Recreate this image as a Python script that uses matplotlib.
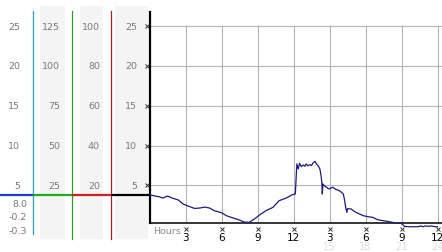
import matplotlib
matplotlib.use('Agg')
import matplotlib.pyplot as plt
import matplotlib.transforms as mtransforms
from matplotlib.patches import Rectangle

# Dew point trace (hours since midnight, value)
hours = [0, 0.8, 1.1, 1.5, 1.9, 2.4, 2.8, 3.3, 3.75, 4.2, 4.6, 5.0, 5.4, 6.0, 6.4,
         6.9, 7.5, 7.9, 8.3, 8.75, 9.2, 9.7, 10.3, 10.8, 11.4, 11.9, 12.15, 12.28,
         12.4, 12.5, 12.65, 12.8, 12.95, 13.05, 13.2, 13.35, 13.5, 13.6, 13.8, 13.9,
         14.05, 14.2, 14.3, 14.36, 14.4, 14.45, 14.6, 14.75, 14.9, 15.0, 15.15, 15.3,
         15.5, 15.7, 15.85, 16.0, 16.15, 16.25, 16.35, 16.45, 16.5, 16.8, 17.0, 17.2,
         17.5, 17.8, 18.2, 18.6, 19.0, 19.45, 20.0, 20.55, 20.95, 21.25, 21.6, 22.0,
         22.4, 22.6, 22.8, 23.0, 23.2, 23.5, 23.8, 24.0]
dew = [3.79, 3.57, 3.40, 3.66, 3.40, 3.16, 2.65, 2.36, 2.10, 2.15, 2.27, 2.15, 1.81, 1.56, 1.19,
       0.93, 0.64, 0.39, 0.35, 0.77, 1.31, 1.81, 2.24, 3.07, 3.41, 3.82, 3.91, 7.69,
       7.06, 7.77, 7.35, 7.55, 7.40, 7.69, 7.45, 7.60, 7.48, 7.77, 8.02, 7.70,
       7.48, 7.06, 6.20, 5.38, 3.91, 5.17, 4.90, 4.75, 4.60, 4.54, 4.70, 4.75,
       4.50, 4.41, 4.30, 4.12, 3.91, 3.20, 2.20, 1.61, 2.07, 2.03, 1.80, 1.61,
       1.40, 1.19, 1.06, 0.98, 0.69, 0.56, 0.43, 0.26, 0.25, -0.15, -0.20, -0.20,
       -0.20, -0.10, -0.20, -0.10, -0.15, -0.10, -0.20, -0.20]

levels = [25, 20, 15, 10, 5]
scale_a = ['25', '20', '15', '10', '5']
scale_b = ['125', '100', '75', '50', '25']
scale_c = ['100', '80', '60', '40', '20']
scale_d = ['25', '20', '15', '10', '5']
extra_labels = ['8.0', '-0.2', '-0.3']

hour_ticks = [3, 6, 9, 12, 15, 18, 21, 24]
hour_labels = ['3', '6', '9', '12', '3', '6', '9', '12']
faint_ticks = [15, 18, 21, 24]
faint_labels = ['15', '18', '21', '24']

W, H = 442, 253
fig = plt.figure(figsize=(W / 100, H / 100), dpi=100)

# background axes in pixel coordinates for the side panel
bg = fig.add_axes([0, 0, 1, 1], zorder=0)
bg.set_xlim(0, W)
bg.set_ylim(H, 0)
bg.axis('off')

# main chart
ax = fig.add_axes([149.5 / W, 1 - 224.3 / H, (W - 149.5) / W, (224.3 - 13) / H], zorder=1)
ax.set_xlim(0, (W - 149.5) / 12)
ax.set_ylim(0.23, 26.78)

for lv in levels:
    ax.axhline(lv, color='#b4b4b4', lw=0.8, zorder=1)
ax.vlines(hour_ticks, 0.23, 25.2, color='#b4b4b4', lw=0.8, zorder=1)

ax.plot(hours, dew, color='#1a1a8a', lw=0.9, zorder=3, clip_on=False)

for side in ['top', 'right']:
    ax.spines[side].set_visible(False)
ax.spines['left'].set_linewidth(1.6)
ax.spines['bottom'].set_linewidth(1.1)
ax.set_yticks([])
ax.set_xticks(hour_ticks)
ax.set_xticklabels(hour_labels)
ax.tick_params(axis='x', length=0, pad=6.5, labelsize=7.5, labelcolor='black')

# small tick marks
xt = ax.get_xaxis_transform()
ax.plot(hour_ticks, [-0.027] * len(hour_ticks), transform=xt, ls='none', marker='x',
        ms=2.2, mew=0.7, color='#333333', clip_on=False)
ax.plot([-0.2] * len(levels), levels, ls='none', marker='x', ms=2.2, mew=0.7,
        color='#333333', clip_on=False)
for t, lab in zip(faint_ticks, faint_labels):
    ax.text(t, -0.107, lab, transform=xt, ha='center', va='center', fontsize=7,
            color='#dedede')

# side panel
for x0, w in [(40, 25), (80, 23), (115, 33)]:
    bg.add_patch(Rectangle((x0, 7), w, 233, color='#f4f4f4', lw=0))

bg.plot([33, 33], [12, 235], color='#2b9fcf', lw=0.9)
bg.plot([72, 72], [12, 240], color='#2aa02a', lw=0.9)
bg.plot([111, 111], [12, 240], color='#b02020', lw=0.9)

mix = mtransforms.blended_transform_factory(bg.transData, ax.transData)
for xs, c in [((0, 33), '#1c3fd6'), ((33, 72), '#22a822'), ((72, 111), '#d21e1e'),
              ((111, 149), 'black')]:
    bg.plot(xs, [dew[0], dew[0]], color=c, lw=1.6, transform=mix,
            solid_capstyle='butt')

label_color = '#7a7a7a'
for col, xr in [(scale_a, 20), (scale_b, 60), (scale_c, 100), (scale_d, 137)]:
    for lv, lab in zip(levels, col):
        bg.text(xr, lv, lab, transform=mix, ha='right', va='center',
                fontsize=6.8, color=label_color)

for yp, lab in zip([205, 218, 232], extra_labels):
    bg.text(27, yp, lab, ha='right', va='center', fontsize=6.8, color=label_color)

bg.text(153, 232, 'Hours', ha='left', va='center', fontsize=6.8, color='#888888')

# legend
bg.plot([161], [20.5], marker='o', ms=4.2, mfc='#a81a1a', mec='#5a1010', mew=0.6, ls='none')
bg.text(165.5, 20.5, 'Dew Point 01/14/06', ha='left', va='center', fontsize=7,
        color='#1f35c4')

fig.savefig('out.png', dpi=100)
